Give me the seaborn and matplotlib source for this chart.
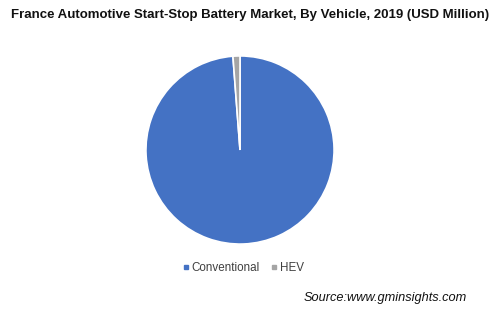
import matplotlib
matplotlib.use("Agg")
import matplotlib.pyplot as plt
import seaborn as sns
from matplotlib.lines import Line2D

sns.set_theme(style="white")
plt.rcParams['font.family'] = ['Liberation Sans', 'DejaVu Sans']

categories = ["Conventional", "HEV"]
values = [98.8, 1.2]
colors = ["#4472C4", "#A5A5A5"]

fig = plt.figure(figsize=(5.0, 3.22), dpi=100)
ax = fig.add_axes([(240 - 95) / 500, 1 - (150 + 95) / 322, 190 / 500, 190 / 322])
ax.pie(values, colors=colors, startangle=90, counterclock=False,
       wedgeprops=dict(edgecolor="white", linewidth=1.2))
ax.set_xlim(-1.01, 1.01)
ax.set_ylim(-1.01, 1.01)
ax.set_aspect("equal")

fig.text(0.5, 1 - 15 / 322, "France Automotive Start-Stop Battery Market, By Vehicle, 2019 (USD Million)",
         ha="center", va="center", fontsize=9.5, fontweight="bold", color="#111111")

handles = [Line2D([0], [0], marker="s", linestyle="", markersize=3.5,
                  markerfacecolor=c, markeredgecolor=c) for c in colors]
fig.legend(handles, categories, loc="center", bbox_to_anchor=(243 / 500, 1 - 268 / 322),
           ncol=2, frameon=False, fontsize=8.4, handletextpad=0.2, columnspacing=0.9,
           labelcolor="#404040", handlelength=0.6)

fig.text(467 / 500, 1 - 298 / 322, "Source:www.gminsights.com", ha="right", va="center",
         fontsize=9.2, style="italic", color="#111111")

fig.savefig("out.png", dpi=100, facecolor="white")
